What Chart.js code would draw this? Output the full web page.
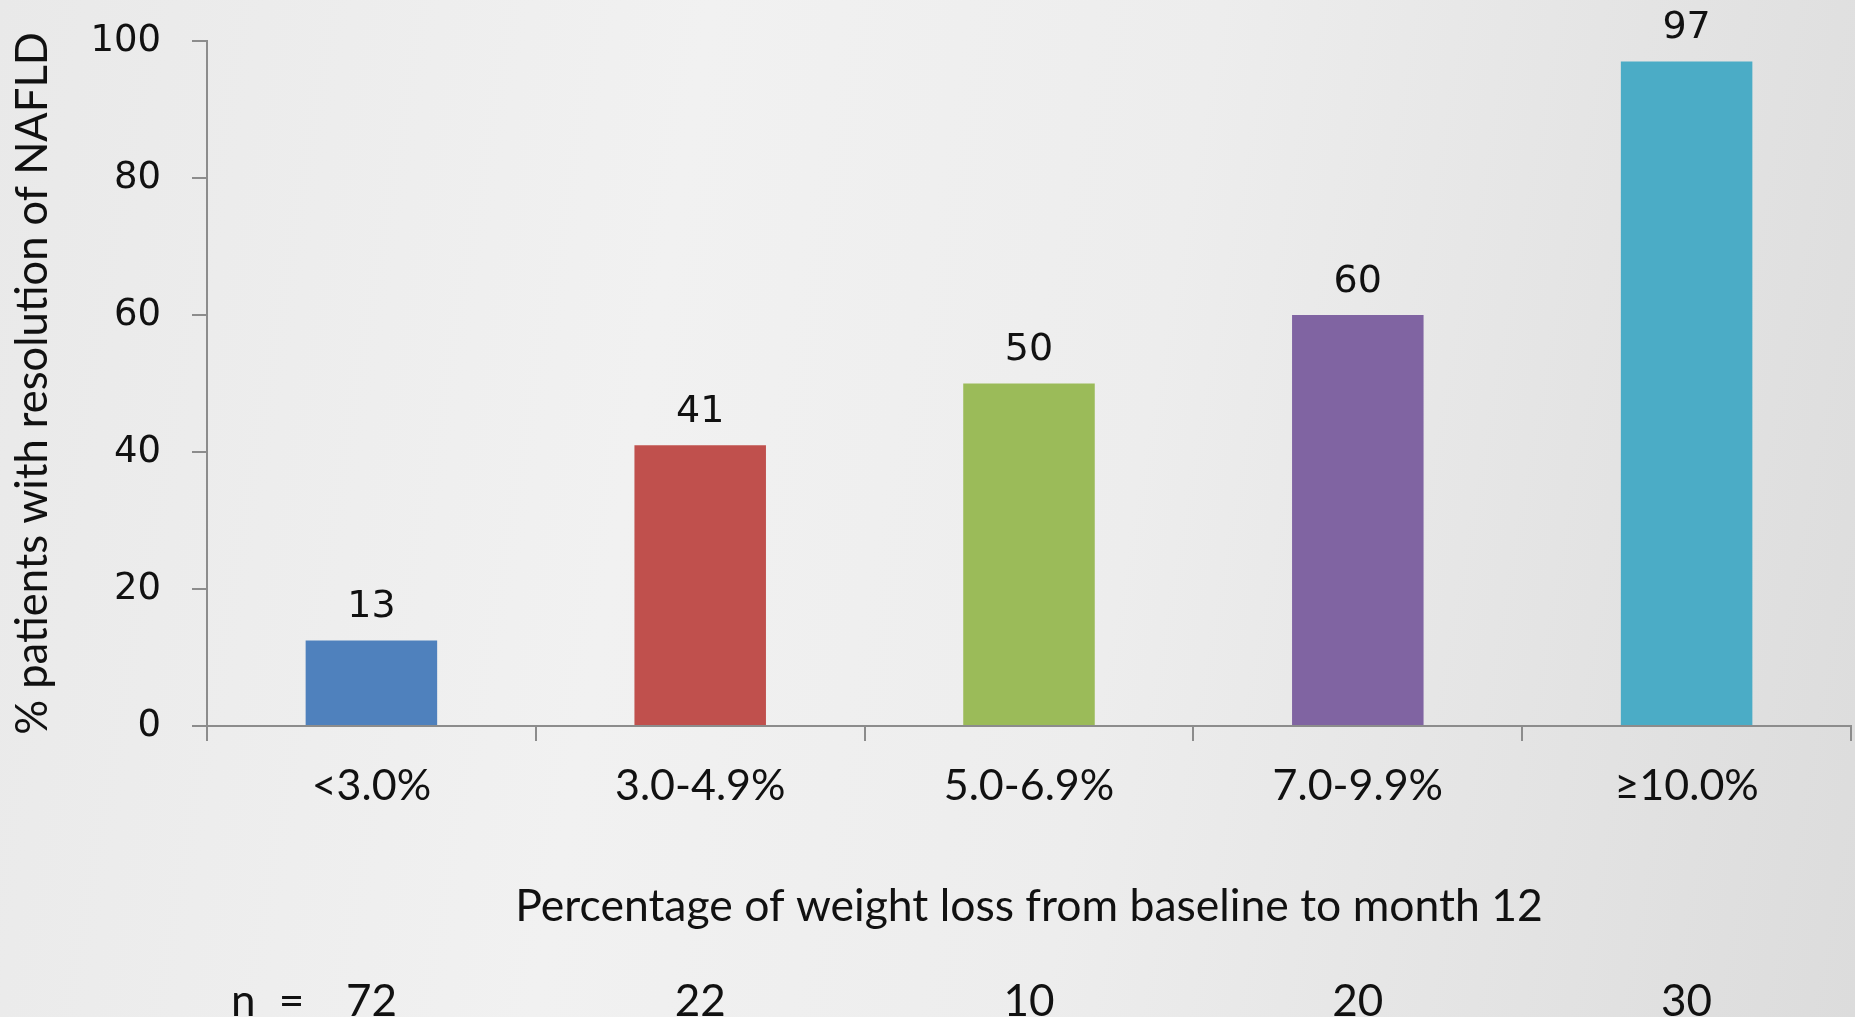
<!DOCTYPE html>
<html>
<head>
<meta charset="utf-8">
<script src="https://cdn.jsdelivr.net/npm/chart.js@4.4.0/dist/chart.umd.min.js"></script>
<style>
  html, body {
    margin: 0;
    padding: 0;
    width: 1855px;
    height: 1017px;
    overflow: hidden;
    background: linear-gradient(100deg, #e9e9e9 0%, #f1f1f1 35%, #ededed 60%, #dcdcdc 100%);
  }
  #wrap { position: absolute; left: 0; top: 0; width: 1855px; height: 1017px; }
</style>
</head>
<body>
<div id="wrap"><canvas id="chart"></canvas></div>
<script>
// Data
const categories = ['<3.0%', '3.0-4.9%', '5.0-6.9%', '7.0-9.9%', '\u226510.0%'];
const resolved = [12.5, 41, 50, 60, 97];
const nCounts = [72, 22, 10, 20, 30];
const barColors = ['#4f81bd', '#c0504d', '#9bbb59', '#8064a2', '#4bacc6'];
const yTicks = [0, 20, 40, 60, 80, 100];

const narrow = "Lato, 'Open Sans', sans-serif";
const wide = "'DejaVu Sans', sans-serif";

// value labels above the bars
const valueLabels = {
    id: 'valueLabels',
    afterDatasetsDraw(chart) {
        const ctx = chart.ctx;
        const meta = chart.getDatasetMeta(0);
        ctx.save();
        ctx.font = '38px ' + wide;
        ctx.fillStyle = '#111';
        ctx.textAlign = 'center';
        ctx.textBaseline = 'bottom';
        meta.data.forEach((bar, i) => {
            ctx.fillText(String(Math.round(resolved[i])), bar.x, bar.y - 14);
        });
        ctx.restore();
    }
};

// n = row under the axis title
const nRow = {
    id: 'nRow',
    afterDraw(chart) {
        const ctx = chart.ctx;
        const x = chart.scales.x;
        ctx.save();
        ctx.font = '44px ' + narrow;
        ctx.fillStyle = '#111';
        ctx.textAlign = 'center';
        ctx.textBaseline = 'middle';
        nCounts.forEach((n, i) => {
            ctx.fillText(String(n), x.getPixelForValue(i), 1002);
        });
        const x0 = x.getPixelForValue(0);
        ctx.fillText('=', x0 - 80, 1002);
        ctx.fillText('n', x0 - 128, 1002);
        ctx.restore();
    }
};

new Chart(document.getElementById('chart'), {
    type: 'bar',
    data: {
        labels: categories,
        datasets: [{
            data: resolved,
            backgroundColor: barColors,
            barPercentage: 0.4,
            categoryPercentage: 1.0
        }]
    },
    options: {
        responsive: true,
        maintainAspectRatio: false,
        animation: false,
        layout: { padding: { top: 41, right: 4, bottom: 0, left: 0 } },
        plugins: {
            legend: { display: false },
            tooltip: { enabled: false }
        },
        scales: {
            x: {
                afterFit(axis) { axis.height = 291; },
                grid: {
                    offset: true,
                    drawOnChartArea: false,
                    drawTicks: true,
                    tickLength: 15,
                    color: '#8c8c8c',
                    lineWidth: 2
                },
                border: { color: '#8c8c8c', width: 2 },
                ticks: {
                    color: '#111',
                    font: { family: narrow, size: 43 },
                    padding: 19
                },
                title: {
                    display: true,
                    text: 'Percentage of weight loss from baseline to month 12',
                    color: '#111',
                    font: { family: narrow, size: 44.5 },
                    padding: { top: 0, bottom: 84 }
                }
            },
            y: {
                min: 0,
                max: 100,
                afterFit(axis) {
                    axis.width = 207;
                    axis.paddingTop = 0;
                    axis.paddingBottom = 0;
                },
                afterBuildTicks(axis) {
                    axis.ticks = yTicks.map(v => ({ value: v }));
                },
                grid: {
                    drawOnChartArea: false,
                    drawTicks: true,
                    tickLength: 15,
                    color: '#8c8c8c',
                    lineWidth: 2
                },
                border: { color: '#8c8c8c', width: 2 },
                ticks: {
                    color: '#111',
                    font: { family: wide, size: 37 },
                    padding: 31
                },
                title: {
                    display: true,
                    text: '% patients with resolution of NAFLD',
                    color: '#111',
                    font: { family: narrow, size: 43.5 },
                    padding: { top: 7, bottom: 0 }
                }
            }
        }
    },
    plugins: [valueLabels, nRow]
});
</script>
</body>
</html>
